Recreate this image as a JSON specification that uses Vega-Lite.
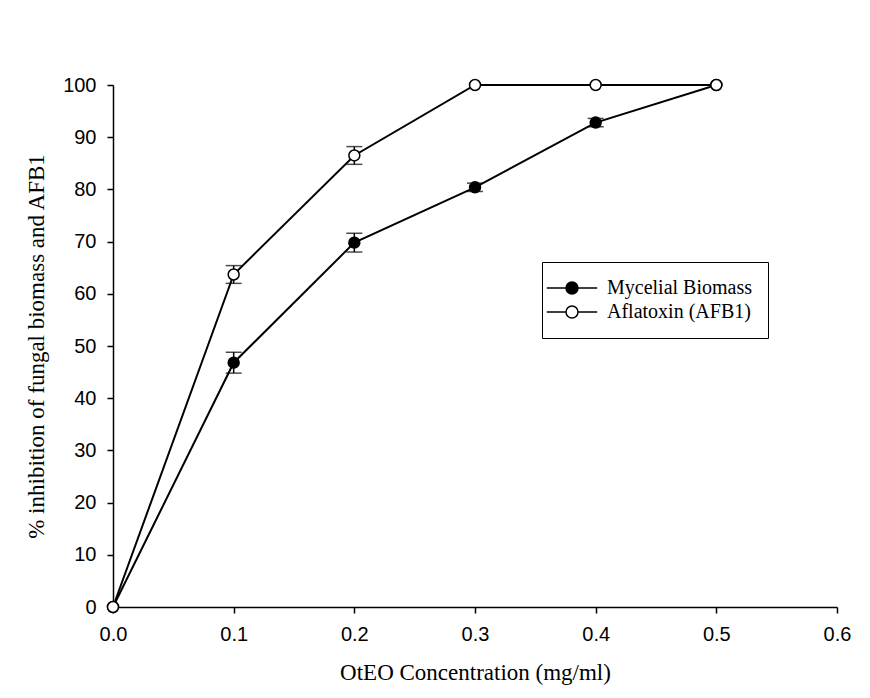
{
  "$schema": "https://vega.github.io/schema/vega-lite/v6.json",
  "autosize": {"type": "none"},
  "width": 724,
  "height": 522,
  "padding": {"left": 113, "top": 85, "right": 33, "bottom": 91},
  "background": "white",
  "datasets": {
    "main": [
      {"conc": 0.0, "series": "Mycelial Biomass", "value": 0},
      {"conc": 0.1, "series": "Mycelial Biomass", "value": 46.8},
      {"conc": 0.2, "series": "Mycelial Biomass", "value": 69.8},
      {"conc": 0.3, "series": "Mycelial Biomass", "value": 80.4},
      {"conc": 0.4, "series": "Mycelial Biomass", "value": 92.8},
      {"conc": 0.5, "series": "Mycelial Biomass", "value": 100},
      {"conc": 0.0, "series": "Aflatoxin (AFB1)", "value": 0},
      {"conc": 0.1, "series": "Aflatoxin (AFB1)", "value": 63.7},
      {"conc": 0.2, "series": "Aflatoxin (AFB1)", "value": 86.5},
      {"conc": 0.3, "series": "Aflatoxin (AFB1)", "value": 100},
      {"conc": 0.4, "series": "Aflatoxin (AFB1)", "value": 100},
      {"conc": 0.5, "series": "Aflatoxin (AFB1)", "value": 100}
    ],
    "errors": [
      {"conc": 0.1, "series": "Mycelial Biomass", "lo": 44.8, "hi": 48.8},
      {"conc": 0.2, "series": "Mycelial Biomass", "lo": 68.0, "hi": 71.6},
      {"conc": 0.3, "series": "Mycelial Biomass", "lo": 79.6, "hi": 81.2},
      {"conc": 0.4, "series": "Mycelial Biomass", "lo": 92.0, "hi": 93.6},
      {"conc": 0.1, "series": "Aflatoxin (AFB1)", "lo": 62.0, "hi": 65.4},
      {"conc": 0.2, "series": "Aflatoxin (AFB1)", "lo": 84.8, "hi": 88.2}
    ]
  },
  "config": {
    "view": {"stroke": null},
    "legend": {
      "strokeColor": "black",
      "padding": 16,
      "rowPadding": 4,
      "symbolStrokeColor": "black",
      "symbolStrokeWidth": 1.5
    },
    "axis": {
      "grid": false,
      "labelFlush": false,
      "domainColor": "black",
      "domainWidth": 1.5,
      "tickColor": "black",
      "tickWidth": 1.5,
      "tickSize": 6,
      "labelFont": "Liberation Sans",
      "labelFontSize": 20,
      "labelColor": "black",
      "titleFont": "Liberation Serif",
      "titleFontSize": 23,
      "titleFontWeight": "normal",
      "titleColor": "black"
    }
  },
  "layer": [
    {
      "data": {"name": "main"},
      "mark": {"type": "line", "color": "black", "strokeWidth": 2},
      "encoding": {
        "x": {"field": "conc", "type": "quantitative", "scale": {"domain": [0, 0.6], "nice": false},
          "axis": {"values": [0, 0.1, 0.2, 0.3, 0.4, 0.5, 0.6], "format": ".1f", "title": "OtEO Concentration (mg/ml)", "labelPadding": 11, "titlePadding": 17}},
        "y": {"field": "value", "type": "quantitative", "scale": {"domain": [0, 100], "nice": false},
          "axis": {"values": [0, 10, 20, 30, 40, 50, 60, 70, 80, 90, 100], "title": "% inhibition of fungal biomass and AFB1", "labelPadding": 11, "titlePadding": 14}},
        "detail": {"field": "series"}
      }
    },
    {
      "data": {"name": "errors"},
      "mark": {"type": "rule", "color": "black", "strokeWidth": 1.5},
      "encoding": {
        "x": {"field": "conc", "type": "quantitative"},
        "y": {"field": "lo", "type": "quantitative"},
        "y2": {"field": "hi"}
      }
    },
    {
      "data": {"name": "errors"},
      "mark": {"type": "tick", "orient": "horizontal", "color": "black", "size": 16, "thickness": 1.5},
      "encoding": {
        "x": {"field": "conc", "type": "quantitative"},
        "y": {"field": "lo", "type": "quantitative"}
      }
    },
    {
      "data": {"name": "errors"},
      "mark": {"type": "tick", "orient": "horizontal", "color": "black", "size": 16, "thickness": 1.5},
      "encoding": {
        "x": {"field": "conc", "type": "quantitative"},
        "y": {"field": "hi", "type": "quantitative"}
      }
    },
    {
      "data": {"name": "main"},
      "mark": {"type": "point", "shape": "circle", "filled": true, "size": 120, "stroke": "black", "strokeWidth": 1.5, "opacity": 1},
      "encoding": {
        "x": {"field": "conc", "type": "quantitative"},
        "y": {"field": "value", "type": "quantitative"},
        "fill": {
          "field": "series", "type": "nominal",
          "scale": {"domain": ["Mycelial Biomass", "Aflatoxin (AFB1)"], "range": ["black", "white"]},
          "legend": {
            "title": null,
            "orient": "none",
            "legendX": 429,
            "legendY": 177,
            "direction": "vertical",
            "symbolType": "M-4.2,0H-1M1,0H4.2M-1,0A1,1 0 1,1 1,0A1,1 0 1,1 -1,0",
            "symbolSize": 144,
            "symbolOffset": 4,
            "labelOffset": 25,
            "labelFont": "Liberation Serif",
            "labelFontSize": 20,
            "labelColor": "black",
            "labelLimit": 300
          }
        }
      }
    }
  ]
}
